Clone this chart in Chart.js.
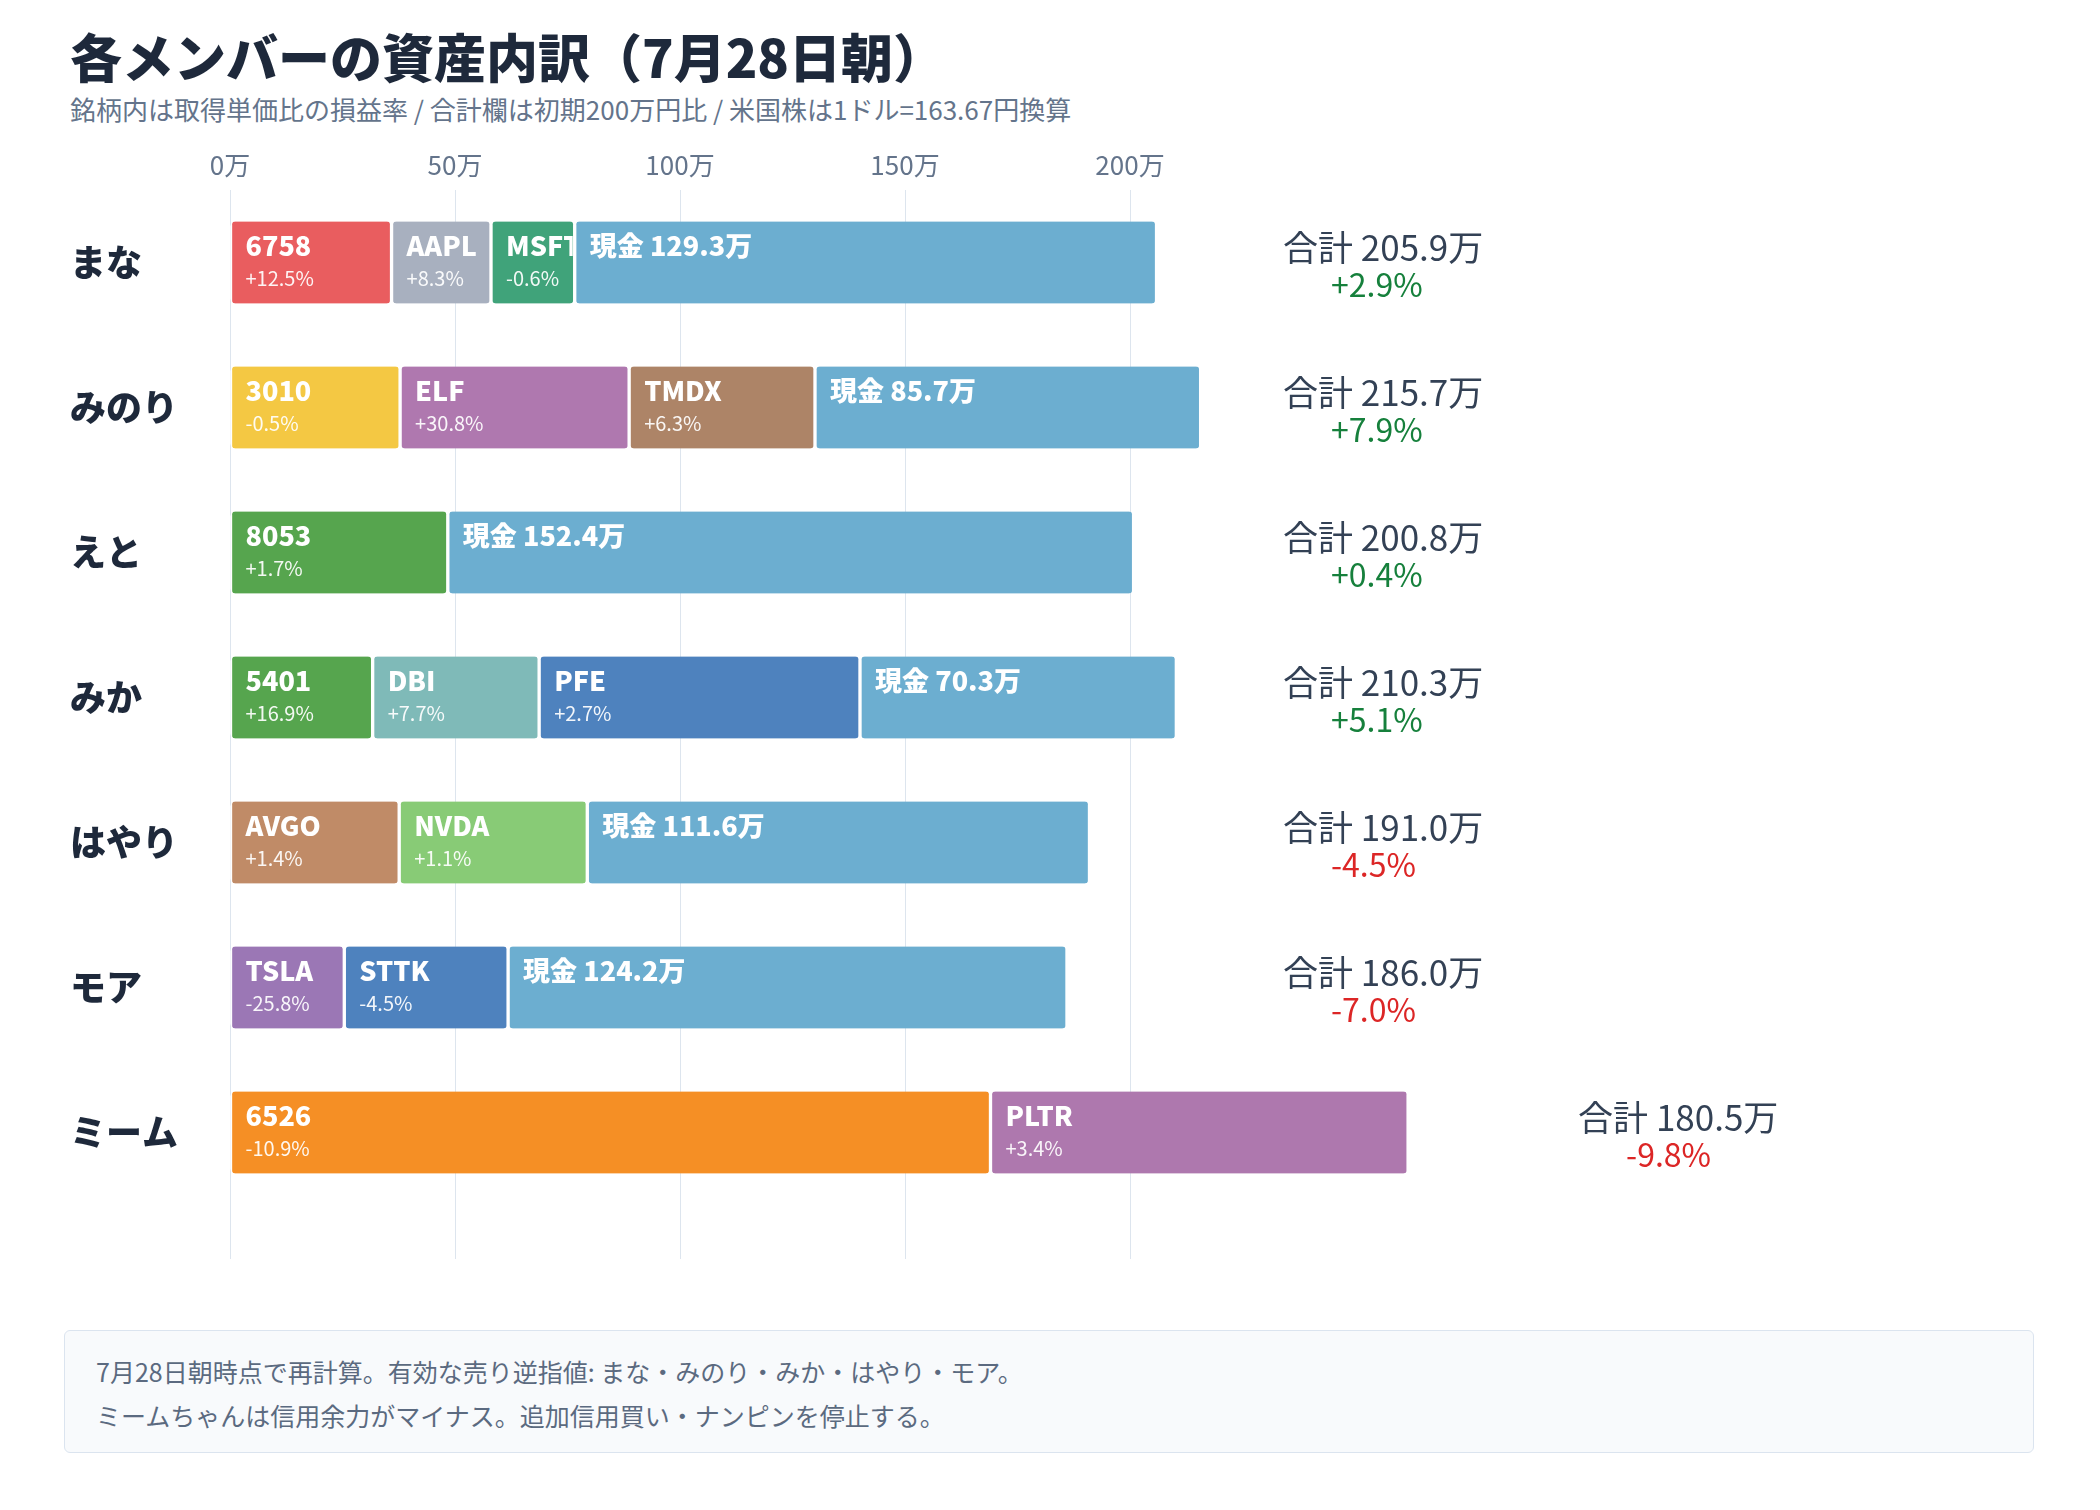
<!DOCTYPE html>
<html lang="ja">
<head>
<meta charset="UTF-8">
<title>各メンバーの資産内訳（7月28日朝）</title>
<style>
  body { margin: 0; background: #fff; font-family: "Noto Sans CJK JP", sans-serif; }
  .page { position: relative; width: 2100px; height: 1510px; overflow: hidden; }
  h1 { position: absolute; left: 70px; top: 30px; margin: 0; font-size: 52px; line-height: 1; font-weight: 900; color: #1e293b; }
  .sub { position: absolute; left: 70px; top: 96px; font-size: 26px; line-height: 1; color: #64748b; }
  .chart { position: absolute; left: 0; top: 130px; }
  .note {
    position: absolute; left: 64px; top: 1330px; width: 1970px; height: 123px; box-sizing: border-box;
    border: 1.5px solid #dbe4ef; border-radius: 6px; background: #f8fafc;
    padding: 18px 31px; font-size: 25px; line-height: 44px; color: #5b6a80;
  }
</style>
</head>
<body>
<div class="page">
  <h1>各メンバーの資産内訳（7月28日朝）</h1>
  <div class="sub">銘柄内は取得単価比の損益率 / 合計欄は初期200万円比 / 米国株は1ドル=163.67円換算</div>
  <div class="chart"><canvas id="assets" width="2100" height="1135"></canvas></div>
  <div class="note">
    7月28日朝時点で再計算。有効な売り逆指値: まな・みのり・みか・はやり・モア。<br>
    ミームちゃんは信用余力がマイナス。追加信用買い・ナンピンを停止する。
  </div>
</div>

<script src="https://cdn.jsdelivr.net/npm/chart.js@4/dist/chart.umd.min.js"></script>
<script>
// --- data (万円) ---
const members = ["まな", "みのり", "えと", "みか", "はやり", "モア", "ミーム"];
const tickers = [
  ["6758", "AAPL", "MSFT", "現金"],
  ["3010", "ELF", "TMDX", "現金"],
  ["8053", "現金"],
  ["5401", "DBI", "PFE", "現金"],
  ["AVGO", "NVDA", "現金"],
  ["TSLA", "STTK", "現金"],
  ["6526", "PLTR"]
];
const amounts = [
  [35.9, 22.1, 18.6, 129.3],
  [37.8, 50.9, 41.3, 85.7],
  [48.4, 152.4],
  [31.7, 37.0, 71.3, 70.3],
  [37.6, 41.8, 111.6],
  [25.4, 36.4, 124.2],
  [169.0, 92.8]
];
// 取得単価比の損益率 (%), 現金は null
const returns = [
  [12.5, 8.3, -0.6, null],
  [-0.5, 30.8, 6.3, null],
  [1.7, null],
  [16.9, 7.7, 2.7, null],
  [1.4, 1.1, null],
  [-25.8, -4.5, null],
  [-10.9, 3.4]
];
const totals = [205.9, 215.7, 200.8, 210.3, 191.0, 186.0, 180.5];
const totalPct = [2.9, 7.9, 0.4, 5.1, -4.5, -7.0, -9.8];
const xTicks = [0, 50, 100, 150, 200];

const CASH = "#6caed0";
const segColors = [
  ["#e95d5f", "#a8b0bf", "#40a37a", CASH],
  ["#f4c843", "#af78af", "#ad8467", CASH],
  ["#56a54e", CASH],
  ["#56a54e", "#7fbab8", "#4e82be", CASH],
  ["#c08b67", "#88cb76", CASH],
  ["#9b77b5", "#4e82be", CASH],
  ["#f58f25", "#ae78ae"]
];

const FONT = '"Noto Sans CJK JP", sans-serif';
Chart.defaults.font.family = FONT;

const pct = v => (v > 0 ? "+" : "") + v.toFixed(1) + "%";

const slots = Math.max(...amounts.map(a => a.length));
const datasets = [];
for (let s = 0; s < slots; s++) {
  datasets.push({
    data: amounts.map(a => (a[s] === undefined ? null : a[s])),
    backgroundColor: segColors.map(c => c[s] || "transparent"),
    borderColor: "#ffffff",
    borderWidth: { left: 2, right: 2, top: 0, bottom: 0 },
    borderSkipped: false,
    borderRadius: { topLeft: 5, topRight: 5, bottomLeft: 5, bottomRight: 5 },
    barThickness: 82
  });
}

// labels inside each segment
const segLabels = {
  id: "segLabels",
  afterDatasetsDraw(chart) {
    const ctx = chart.ctx;
    chart.data.datasets.forEach((ds, s) => {
      chart.getDatasetMeta(s).data.forEach((bar, i) => {
        const name = tickers[i][s];
        if (!name) return;
        const { x, y, base, height } = bar.getProps(["x", "y", "base", "height"], true);
        const left = Math.min(x, base) + 2;
        const right = Math.max(x, base) - 2;
        const top = y - height / 2;
        const r = returns[i][s];
        ctx.save();
        ctx.beginPath();
        ctx.rect(left, top, right - left, height);
        ctx.clip();
        ctx.fillStyle = "#ffffff";
        ctx.textBaseline = "middle";
        ctx.textAlign = "left";
        ctx.font = "900 27px " + FONT;
        const head = r === null ? name + " " + amounts[i][s].toFixed(1) + "万" : name;
        ctx.fillText(head, left + 13, top + 24);
        if (r !== null) {
          ctx.font = "400 20px " + FONT;
          ctx.fillStyle = "rgba(255,255,255,0.93)";
          ctx.fillText(pct(r), left + 13, top + 57);
        }
        ctx.restore();
      });
    });
  }
};

// 合計 column on the right
const totalLabels = {
  id: "totalLabels",
  afterDraw(chart) {
    const ctx = chart.ctx;
    const xs = chart.scales.x, ys = chart.scales.y;
    members.forEach((m, i) => {
      const rowEnd = amounts[i].reduce((a, b) => a + b, 0);
      const lx = rowEnd > 234 ? xs.getPixelForValue(rowEnd) + 170 : xs.getPixelForValue(234);
      const yc = ys.getPixelForValue(i);
      ctx.save();
      ctx.textAlign = "left";
      ctx.textBaseline = "middle";
      ctx.font = "400 35px " + FONT;
      ctx.fillStyle = "#334155";
      ctx.fillText("合計 " + totals[i].toFixed(1) + "万", lx, yc - 15);
      ctx.font = "400 32px " + FONT;
      ctx.fillStyle = totalPct[i] >= 0 ? "#16803c" : "#dc2626";
      ctx.fillText(pct(totalPct[i]), lx + 48, yc + 22);
      ctx.restore();
    });
  }
};

// grid lines run a little below the last row
const gridTail = {
  id: "gridTail",
  beforeDatasetsDraw(chart) {
    const ctx = chart.ctx, area = chart.chartArea, xs = chart.scales.x;
    ctx.save();
    ctx.strokeStyle = "#dde5ee";
    ctx.lineWidth = 1;
    xTicks.forEach(v => {
      const px = Math.round(xs.getPixelForValue(v)) + 0.5;
      ctx.beginPath();
      ctx.moveTo(px, area.bottom);
      ctx.lineTo(px, area.bottom + 54);
      ctx.stroke();
    });
    ctx.restore();
  }
};

new Chart(document.getElementById("assets"), {
  type: "bar",
  data: { labels: members, datasets: datasets },
  options: {
    indexAxis: "y",
    responsive: false,
    animation: false,
    layout: { padding: { left: 70, right: 250, top: 0, bottom: 60 } },
    plugins: { legend: { display: false }, tooltip: { enabled: false } },
    scales: {
      x: {
        position: "top",
        stacked: true,
        min: 0,
        max: 360,
        afterBuildTicks: s => { s.ticks = xTicks.map(v => ({ value: v })); },
        afterFit: s => { s.height = 60; },
        grid: { color: "#dde5ee", lineWidth: 1, drawTicks: false },
        border: { display: false },
        ticks: { padding: 9, color: "#64748b", font: { size: 26 }, callback: v => v + "万" }
      },
      y: {
        stacked: true,
        afterFit: s => { s.width = 160; },
        grid: { display: false },
        border: { display: false },
        ticks: { crossAlign: "far", padding: 0, color: "#1e293b", font: { size: 36, weight: 900 } }
      }
    }
  },
  plugins: [segLabels, totalLabels, gridTail]
});
</script>
</body>
</html>
